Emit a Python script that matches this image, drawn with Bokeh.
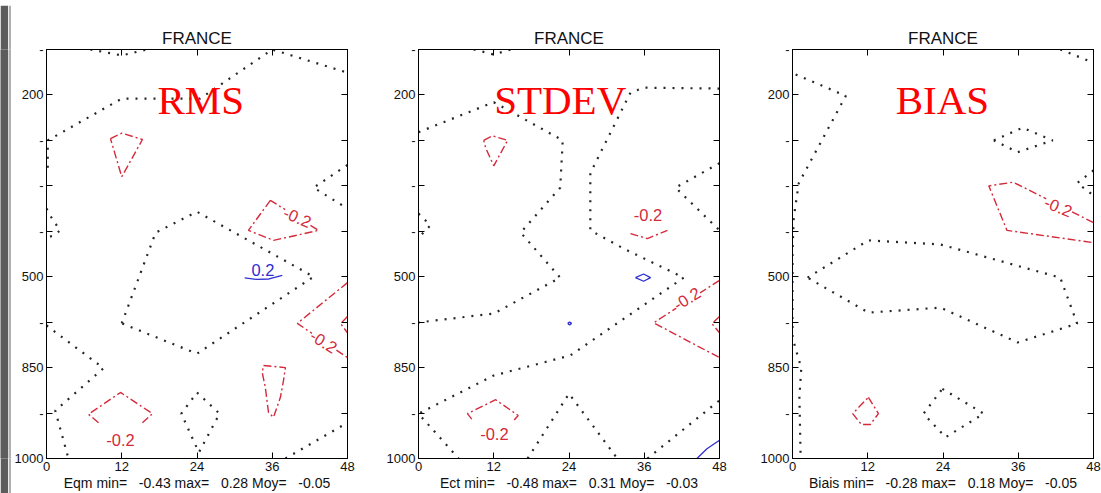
import numpy as np
from bokeh.plotting import figure
from bokeh.models import Range1d, FixedTicker, LinearAxis, Label
from bokeh.layouts import row, column
from bokeh.embed import file_html
from bokeh.resources import INLINE

# Vertical axis: standard pressure levels (hPa), evenly spaced from top to bottom
LEVELS_HPA = [100, 200, 250, 300, 400, 500, 700, 850, 925, 1000]
LABELLED_LEVELS = [200, 500, 850, 1000]
# Horizontal axis: forecast lead time (hours)
LEAD_HOURS = [0, 12, 24, 36, 48]

# Isoline values drawn in every panel
CONTOUR_LEVELS = [-0.2, 0.0, 0.2]

# Isolines: (value, lead time in hours, pressure in hPa)
RMS_LINES = [
    (0.0, [7, 12, 16], [100, 113, 100]),
    (0.0, [0.2, 0.2, 12, 24.5, 36, 48], [280, 250, 204, 204, 100, 151]),
    (0.0, [0, 1.0, 2.2, 1.0, 0], [350, 375, 398, 410, 414]),
    (0.0, [48, 42.6, 48], [277, 304, 350]),
    (0.0, [12, 17.4, 24, 42.6, 24, 12], [704, 403, 357, 500, 804, 704]),
    (0.0, [0, 9.1, 1.4, 3.5], [711, 851, 921, 1000]),
    (0.0, [24, 27.6, 24.3, 21.5, 24], [891, 926, 990, 926, 891]),
    (0.0, [38.1, 48], [1000, 941]),
    (-0.2, [10.2, 12, 15.3, 12, 10.2], [248, 242, 249, 290, 248]),
    (-0.2, [35.7, 32.2, 36.2, 43.4, 35.7], [332, 398, 420, 398, 332]),
    (-0.2, [48, 40, 48], [526, 704, 817]),
    (-0.2, [48, 46.9, 48], [675, 705, 735]),
    (-0.2, [34.6, 38.1, 37.8, 37.3, 36.2, 35.4, 34.9, 34.4, 34.6],
     [843, 850, 871, 899, 932, 924, 883, 858, 843]),
    (-0.2, [8.3, 6.7, 11.8, 16.9, 15.3], [941, 927, 891, 926, 941]),
    (0.2, [31.6, 33.5, 35.5, 37.6], [505, 512, 510, 497]),
]
STDEV_LINES = [
    (0.0, [8.8, 12, 14.7], [100, 111, 100]),
    (0.0, [0, 12, 23, 22.6, 16.3, 22.6, 12, 0], [241, 208, 250, 304, 403, 504, 662, 701]),
    (0.0, [48, 35.9, 33.8, 27.4, 27.4, 32.7, 42.3, 24.2, 12, 0, 6.4],
     [186, 184, 195, 286, 398, 438, 504, 810, 863, 926, 1000]),
    (0.0, [48, 41, 48], [275, 304, 398]),
    (0.0, [0, 1.9, 0], [361, 387, 414]),
    (0.0, [17.4, 24, 31.7], [1000, 893, 1000]),
    (0.0, [36.5, 48], [1000, 904]),
    (-0.2, [10.4, 11.8, 14.2, 12, 10.7, 10.4], [250, 245, 250, 278, 258, 250]),
    (-0.2, [33.8, 36.5, 39.7], [405, 416, 398]),
    (-0.2, [48, 37.5, 48], [516, 702, 817]),
    (-0.2, [48, 46.8, 48], [675, 705, 735]),
    (-0.2, [8.5, 7.8, 12.3, 15.9, 15.2], [935, 926, 903, 929, 937]),
    (0.2, [34.6, 35.9, 37.0, 35.9, 34.6], [504, 494, 504, 520, 504]),
    (0.2, [23.8, 24.1, 24.4, 24.1, 23.8], [704, 699, 704, 709, 704]),
    (0.2, [44.4, 46, 48], [1000, 984, 970]),
]
BIAS_LINES = [
    (0.0, [0.5, 8.5, 1.0, 0.2, 0, 0, 1.4, 1.1, 1.3],
     [155, 201, 297, 370, 442, 751, 851, 899, 1000]),
    (0.0, [42.7, 48], [100, 129]),
    (0.0, [32.1, 36.7, 41.5, 35.9, 32.1], [250, 236, 250, 263, 250]),
    (0.0, [48, 45.4, 48], [283, 297, 321]),
    (0.0, [2.4, 12.1, 23.6, 42.7, 45.4, 35.9, 23.6, 12.1, 2.4],
     [504, 420, 429, 504, 705, 767, 636, 658, 504]),
    (0.0, [23.9, 30.5, 24.4, 20.9, 23.9], [885, 926, 965, 926, 885]),
    (-0.2, [48, 35.2, 31.3, 34.2, 48], [381, 296, 300, 398, 425]),
    (-0.2, [12.1, 13.7, 12.4, 11.0, 9.6, 12.1], [899, 926, 944, 944, 926, 899]),
]

# Isoline value tags: (value, lead hours, pressure hPa, rotation in rad)
RMS_TAGS = [(-0.2, 40.0, 369, -0.4), (-0.2, 44.2, 764, -0.56),
            (-0.2, 11.8, 970, 0.0), (0.2, 34.5, 486, 0.0)]
STDEV_TAGS = [(-0.2, 36.6, 365, 0.0), (-0.2, 42.8, 596, 0.55), (-0.2, 12.1, 960, 0.0)]
BIAS_TAGS = [(-0.2, 42.4, 346, -0.38)]

# Summary statistics printed under each panel
STAT_NAMES = ["Eqm", "Ect", "Biais"]
STAT_MIN = [-0.43, -0.48, -0.28]
STAT_MAX = [0.28, 0.31, 0.18]
STAT_MEAN = [-0.05, -0.03, -0.05]

PANEL_NAMES = ["RMS", "STDEV", "BIAS"]

FONT = "Liberation Sans"
RED = "#d42a3a"
BLUE = "#2f2fd0"
LINE_STYLE = {
    -0.2: dict(line_color=RED, line_width=1.4, line_dash="8 3 2 3"),
    0.0: dict(line_color="#262626", line_width=2.2, line_dash="2 7"),
    0.2: dict(line_color=BLUE, line_width=1.3),
}
TAG_COLOR = {-0.2: RED, 0.0: "#262626", 0.2: BLUE}


def level_pos(p):
    return np.interp(p, LEVELS_HPA, np.arange(len(LEVELS_HPA)))


def band(w, h, color):
    b = figure(width=w, height=h, toolbar_location=None, output_backend="svg",
               x_axis_location=None, y_axis_location=None, min_border=0)
    b.background_fill_color = color
    b.border_fill_color = color
    b.outline_line_color = None
    return b


def make_panel(i, lines, tags, head_x, pad_left, pad_right):
    nlev = len(LEVELS_HPA)
    p = figure(frame_width=301, frame_height=409,
               min_border_left=pad_left, min_border_right=pad_right,
               min_border_top=44, min_border_bottom=35,
               x_range=Range1d(0, 48), y_range=Range1d(nlev - 1, 0),
               toolbar_location=None, output_backend="svg", title="FRANCE")
    p.xgrid.visible = False
    p.ygrid.visible = False
    p.background_fill_color = "white"
    p.border_fill_color = "white"
    p.outline_line_color = "black"
    p.outline_line_width = 1

    p.title.align = "center"
    p.title.text_font = FONT
    p.title.text_font_size = "17px"
    p.title.text_font_style = "normal"
    p.title.text_color = "#111111"
    p.title.standoff = 4

    xa = p.xaxis[0]
    ya = p.yaxis[0]
    top = LinearAxis()
    right = LinearAxis()
    p.add_layout(top, "above")
    p.add_layout(right, "right")
    for ax in (xa, top):
        ax.ticker = FixedTicker(ticks=LEAD_HOURS)
    for ax in (ya, right):
        ax.ticker = FixedTicker(ticks=list(range(nlev)))
    for ax in (xa, ya, top, right):
        ax.major_tick_in = 6
        ax.major_tick_out = 0
        ax.minor_tick_line_color = None
        ax.axis_line_color = "black"
        ax.major_tick_line_color = "black"
        ax.major_label_text_font = FONT
        ax.major_label_text_font_size = "13px"
        ax.major_label_text_color = "#111111"
    top.major_label_overrides = {h: "" for h in LEAD_HOURS}
    right.major_label_overrides = {k: "" for k in range(nlev)}
    for ax in (top, right):
        ax.major_label_text_font_size = "0px"
        ax.major_label_standoff = 0

    ya.major_label_overrides = {k: (str(lev) if lev in LABELLED_LEVELS else "-")
                                for k, lev in enumerate(LEVELS_HPA)}
    ya.major_label_standoff = 3
    xa.major_label_standoff = 3

    gap = "\u00a0\u00a0\u00a0"
    xa.axis_label = (f"{STAT_NAMES[i]} min={gap}{STAT_MIN[i]:.2f} max={gap}"
                     f"{STAT_MAX[i]:.2f} Moy={gap}{STAT_MEAN[i]:.2f}")
    xa.axis_label_standoff = 1
    xa.axis_label_text_font = FONT
    xa.axis_label_text_font_size = "14px"
    xa.axis_label_text_font_style = "normal"
    xa.axis_label_text_color = "#111111"

    for lvl in CONTOUR_LEVELS:
        xs = [list(h) for (v, h, pr) in lines if v == lvl]
        ys = [list(level_pos(pr)) for (v, h, pr) in lines if v == lvl]
        if xs:
            p.multi_line(xs=xs, ys=ys, line_cap="butt", **LINE_STYLE[lvl])

    for (v, h, pr, ang) in tags:
        p.add_layout(Label(x=h, y=float(level_pos(pr)), text=f"{v:.1f}", angle=ang,
                           text_align="center", text_baseline="middle",
                           text_font=FONT, text_font_size="16.5px",
                           text_color=TAG_COLOR[v], background_fill_color="white"))

    p.add_layout(Label(x=head_x, y=float(level_pos(206)), text=PANEL_NAMES[i],
                       text_font="Liberation Serif", text_font_size="41px",
                       text_color="#ff0000", text_align="center",
                       text_baseline="alphabetic"))
    return p


p1 = make_panel(0, RMS_LINES, RMS_TAGS, 24.6, 35, 23)
p2 = make_panel(1, STDEV_LINES, STDEV_TAGS, 22.6, 48, 26)
p3 = make_panel(2, BIAS_LINES, BIAS_TAGS, 23.9, 47, 8)

top_strip = row(band(330, 5, "#8c8c8c"), band(525, 5, "#6b6b6b"), band(246, 5, "#8c8c8c"))
main = row(band(8, 488, "#5c5c5c"), band(3, 488, "#b0b0b0"), p1, p2, p3)
layout = column(top_strip, main)

open("out.html", "w").write(file_html(layout, INLINE))
